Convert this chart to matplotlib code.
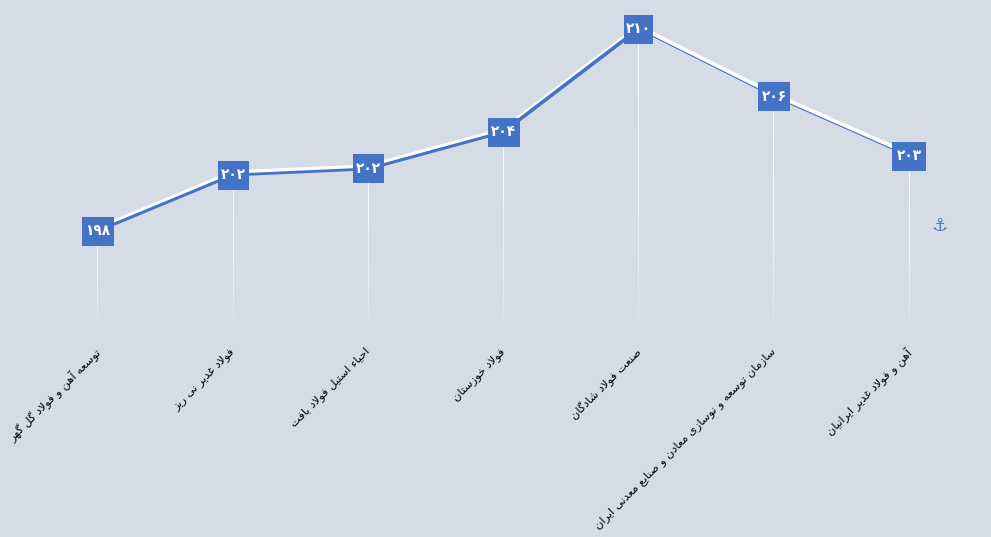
import numpy as np
import matplotlib
matplotlib.use('Agg')
import matplotlib.pyplot as plt
from matplotlib.patches import Rectangle
from matplotlib.transforms import Affine2D

bg_color = '#d6dce5'
blue = '#4472c4'

categories = ['توسعه آهن و فولاد گل گهر', 'فولاد غدیر نی ریز', 'احیاء استیل فولاد بافت', 'فولاد خوزستان',
              'صنعت فولاد شادگان', 'سازمان توسعه و نوسازی معادن و صنایع معدنی ایران', 'آهن و فولاد غدیر ایرانیان']
values = [198.0, 201.33, 201.69, 203.88, 210.0, 205.99, 202.44]
value_labels = ['۱۹۸', '۲۰۲', '۲۰۲', '۲۰۴', '۲۱۰', '۲۰۶', '۲۰۳']
seg_widths = [2.2, 2.0, 2.2, 2.6, 0.8, 0.8]
box_widths = [32, 31, 31, 32, 29, 32, 34]

# first code point of the iso/final/initial/medial run, matplotlib does no arabic shaping itself
four_forms = {'ب': 0xFE8F, 'پ': 0xFB56, 'ت': 0xFE95, 'ج': 0xFE9D, 'ح': 0xFEA1, 'خ': 0xFEA5, 'س': 0xFEB1,
              'ش': 0xFEB5, 'ص': 0xFEB9, 'ض': 0xFEBD, 'ط': 0xFEC1, 'ظ': 0xFEC5, 'ع': 0xFEC9, 'غ': 0xFECD,
              'ف': 0xFED1, 'ق': 0xFED5, 'ک': 0xFB8E, 'گ': 0xFB92, 'ل': 0xFEDD, 'م': 0xFEE1, 'ن': 0xFEE5,
              'ه': 0xFEE9, 'ی': 0xFBFC}
two_forms = {'ا': 0xFE8D, 'آ': 0xFE81, 'د': 0xFEA9, 'ذ': 0xFEAB, 'ر': 0xFEAD, 'ز': 0xFEAF, 'ژ': 0xFB8A, 'و': 0xFEED}


def shape(txt):
    txt = txt.replace('لا', '\uE000')
    out = []
    for i, c in enumerate(txt):
        prev = txt[i-1] if i > 0 else ' '
        nxt = txt[i+1] if i < len(txt)-1 else ' '
        joined_prev = prev in four_forms
        joined_next = nxt in four_forms or nxt in two_forms or nxt == '\uE000'
        if c == '\uE000':
            out.append('\uFEFC' if joined_prev else '\uFEFB')
        elif c in four_forms:
            k = (1 if joined_prev else 0) + (2 if joined_next else 0)
            out.append(chr(four_forms[c] + k))
        elif c in two_forms:
            out.append(chr(two_forms[c] + (1 if joined_prev else 0)))
        else:
            out.append(c)
    return ''.join(out[::-1])


fig = plt.figure(figsize=(9.91, 5.37), dpi=100, facecolor=bg_color)
ax = fig.add_axes([0, 0, 1, 1])
ax.set_facecolor(bg_color)
ax.set_xlim(-0.721, 6.609)
ax.set_ylim(179.82, 211.73)
ax.axis('off')

x = np.arange(len(values))
base = 192.71

# drop lines, white fading out towards the bottom
for i, v in enumerate(values):
    ys = np.linspace(v, base, 40)
    for k in range(39):
        ax.plot([i, i], [ys[k], ys[k+1]], color='white', lw=0.8, solid_capstyle='butt',
                alpha=0.9*(1-k/39)**0.5, zorder=1)

# line segments with the white edge on top
for i, w in enumerate(seg_widths):
    ax.plot(x[i:i+2], np.array(values[i:i+2])+0.16, color='white', lw=2.8, zorder=2, solid_capstyle='butt')
    ax.plot(x[i:i+2], values[i:i+2], color=blue, lw=w, zorder=3, solid_capstyle='butt')

for i, v in enumerate(values):
    # box size is in pixels, placed on the data point
    px, py = ax.transData.transform((i, v))
    ax.add_patch(Rectangle((-box_widths[i]/2, -14.5), box_widths[i], 29, fc=blue, ec='none', zorder=4,
                           transform=Affine2D().translate(px+0.5, py)))
    ax.annotate(value_labels[i], (i, v), xytext=(0.4, 0.3), textcoords='offset points', color='white', fontsize=11,
                fontweight='bold', stretch='condensed', ha='center', va='center', zorder=5)
    ax.annotate(shape(categories[i]), (i, base), xytext=(-2.6, -18.4), textcoords='offset points', rotation=45,
                ha='right', va='top', rotation_mode='anchor', fontsize=8.2, color='black')

ax.annotate('\u2693', (6, base), xytext=(22, 68), textcoords='offset points', color='#4a7ebb', fontsize=13,
            fontweight='bold', ha='center', va='center')

fig.savefig('out.png', dpi=100, facecolor=bg_color)
